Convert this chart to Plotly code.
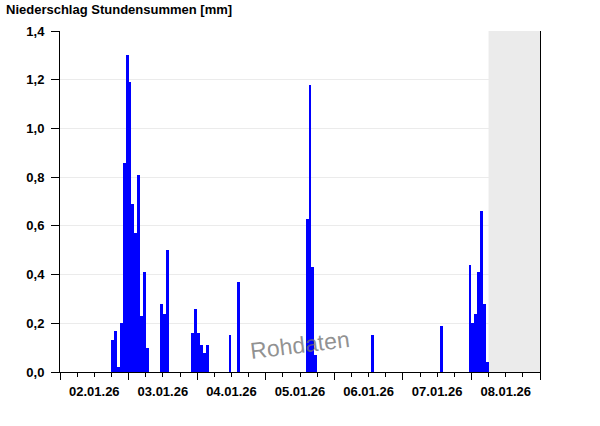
import plotly.graph_objects as go
import pandas as pd

hours = [
    "2026-01-02 18:00", "2026-01-02 19:00", "2026-01-02 20:00", "2026-01-02 21:00",
    "2026-01-02 22:00", "2026-01-02 23:00",
    "2026-01-03 00:00", "2026-01-03 01:00", "2026-01-03 02:00", "2026-01-03 03:00",
    "2026-01-03 04:00", "2026-01-03 05:00", "2026-01-03 06:00",
    "2026-01-03 11:00", "2026-01-03 12:00", "2026-01-03 13:00",
    "2026-01-03 22:00", "2026-01-03 23:00",
    "2026-01-04 00:00", "2026-01-04 01:00", "2026-01-04 02:00", "2026-01-04 03:00",
    "2026-01-04 11:00", "2026-01-04 14:00",
    "2026-01-05 14:00", "2026-01-05 15:00", "2026-01-05 16:00", "2026-01-05 17:00",
    "2026-01-06 13:00",
    "2026-01-07 13:00", "2026-01-07 23:00",
    "2026-01-08 00:00", "2026-01-08 01:00", "2026-01-08 02:00", "2026-01-08 03:00",
    "2026-01-08 04:00", "2026-01-08 05:00",
]
precip = [
    0.13, 0.17, 0.02, 0.20, 0.86, 1.30,
    1.19, 0.69, 0.57, 0.81, 0.23, 0.41, 0.10,
    0.28, 0.24, 0.50,
    0.16, 0.26,
    0.16, 0.11, 0.08, 0.11,
    0.15, 0.37,
    0.63, 1.18, 0.43, 0.07,
    0.15,
    0.19, 0.44,
    0.20, 0.24, 0.41, 0.66, 0.28, 0.04,
]

x_start = "2026-01-02 00:00"
x_end = "2026-01-09 00:00"
now_time = "2026-01-08 06:00"
title_text = "Niederschlag Stundensummen [mm]"
watermark = "Rohdaten"

HOUR_MS = 3600000
FONT = "Arial, 'Liberation Sans', sans-serif"

fig = go.Figure()
fig.add_trace(go.Bar(
    x=pd.to_datetime(hours), y=precip,
    width=HOUR_MS, offset=0,
    marker=dict(color="#0000ff", line=dict(width=0)),
))

fig.add_shape(type="rect", xref="x", yref="paper",
              x0=now_time, x1=x_end, y0=0, y1=1,
              fillcolor="#ebebeb", line=dict(width=0), layer="below")

fig.add_annotation(text=watermark, xref="paper", yref="paper",
                   x=0.5, y=0.079, xanchor="center", yanchor="middle",
                   showarrow=False, textangle=-7,
                   font=dict(family=FONT, size=23, color="rgba(110,110,110,0.75)"))

fig.update_layout(
    width=600, height=426,
    margin=dict(l=60, r=60, t=31, b=54, pad=0, autoexpand=False),
    paper_bgcolor="white", plot_bgcolor="white",
    separators=",.",
    showlegend=False,
    bargap=0,
    font=dict(family=FONT, size=13, color="black"),
    title=dict(text="<b>" + title_text + "</b>", xref="container", yref="container",
               x=6 / 600, xanchor="left", y=1 - 9 / 426, yanchor="middle",
               automargin=False,
               font=dict(family=FONT, size=13, color="black")),
    xaxis=dict(
        type="date", range=[x_start, x_end], automargin=False,
        tick0=x_start, dtick=86400000, tickformat="<b>%d.%m.%y</b>",
        ticklabelmode="period",
        ticks="outside", ticklen=7, tickwidth=1, tickcolor="black",
        showline=True, linecolor="black", linewidth=1,
        showgrid=False, zeroline=False,
        tickfont=dict(family=FONT, size=13, color="black"),
        minor=dict(dtick=21600000, tick0=x_start, ticks="outside", ticklen=4,
                   tickwidth=1, tickcolor="black", showgrid=False),
    ),
    yaxis=dict(
        range=[0, 1.4], dtick=0.2, tick0=0, tickformat=".1f", automargin=False,
        ticks="outside", ticklen=8, tickwidth=1, tickcolor="black",
        showline=True, linecolor="black", linewidth=1, mirror=True,
        showgrid=True, gridcolor="#ebebeb", gridwidth=1,
        zeroline=False,
        ticklabelstandoff=4,
        tickfont=dict(family=FONT, size=13, color="black", weight="bold"),
    ),
)

fig.write_html("out.html",
               config={"displayModeBar": False},
               post_script="document.body.style.margin='0';document.body.style.overflow='hidden';")
